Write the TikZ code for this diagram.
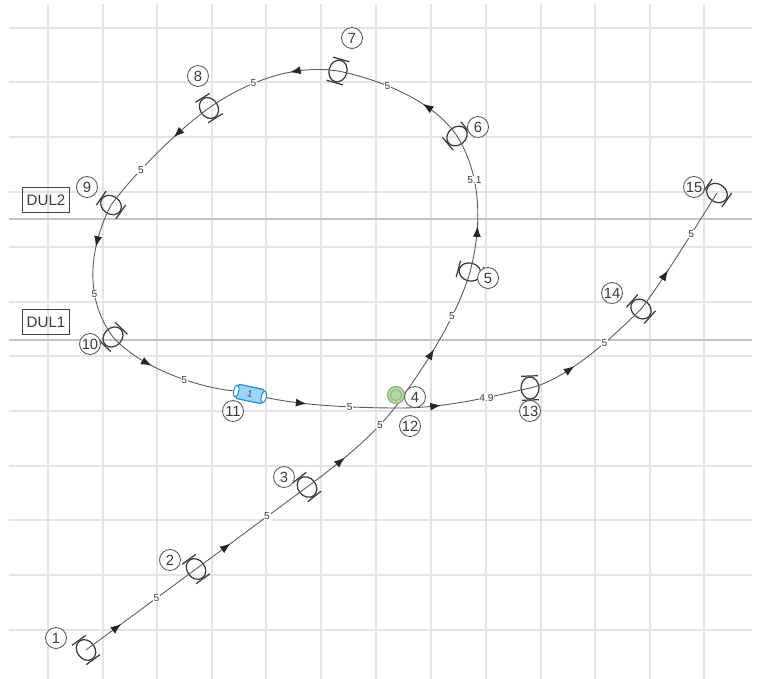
\documentclass[tikz,border=0pt]{standalone}
\usepackage{fontspec}
\setmainfont{Liberation Sans}
\usetikzlibrary{shapes.geometric,decorations.markings,arrows.meta}
\definecolor{gridc}{HTML}{E4E4E4}
\definecolor{gridd}{HTML}{C4C4C4}
\definecolor{ink}{HTML}{3A3A3A}
\definecolor{track}{HTML}{5A5A5A}
\definecolor{cylf}{HTML}{9BD4F8}
\definecolor{cyld}{HTML}{2E8FC8}
\definecolor{grnf}{HTML}{B7D8A2}
\definecolor{grnd}{HTML}{8FB57C}
\tikzset{
  x=0.02cm,y=-0.02cm,
  gridline/.style={gridc,line width=0.6pt},
  gridstrong/.style={gridd,line width=0.6pt},
  trk/.style={track,line width=0.5pt},
  tk/.style={postaction={decorate,decoration={markings,mark=at position #1 with {\arrow[black!85]{Latex[length=6pt,width=4.6pt]}}}}},
  seglab/.style={fill=white,inner sep=0.4pt,font=\fontsize{5.8}{7}\selectfont,text=ink},
  tieell/.style={ellipse,draw=ink,line width=0.7pt,minimum width=0.36cm,minimum height=0.44cm,inner sep=0pt},
  tiebar/.style={ink,line width=0.7pt},
  numlab/.style={circle,draw=black!65,fill=white,line width=0.5pt,minimum size=0.42cm,inner sep=0pt,font=\fontsize{8.4}{10}\selectfont,text=ink},
  dul/.style={draw=black!75,line width=0.7pt,minimum width=0.94cm,minimum height=0.49cm,inner sep=0pt,font=\fontsize{8.6}{10}\selectfont,text=ink},
  cyl/.style={draw=cyld,fill=cylf,line width=0.7pt,rounded corners=1pt,minimum width=0.54cm,minimum height=0.29cm,inner sep=0pt,font=\fontsize{5.2}{6}\selectfont,text=ink},
  cylend/.style={ellipse,draw=cyld,fill=white,line width=0.6pt,minimum width=0.1cm,minimum height=0.24cm,inner sep=0pt},
}
\newcommand{\railtie}[4]{%
  \node[tieell,rotate={-(#4)}] (#1) at (#2,#3) {};
  \draw[tiebar] (#1.center) ++(#4+90:12) ++(#4:8.5) -- ++(#4+180:17);
  \draw[tiebar] (#1.center) ++(#4-90:12) ++(#4:8.5) -- ++(#4+180:17);
}
\begin{document}
\begin{tikzpicture}
\useasboundingbox (0,0) rectangle (757,679);
\fill[white] (0,0) rectangle (757,679);
\foreach \gx in {48,103,157,212,266,321,376,431,486,541,595,650,704}
  \draw[gridline] (\gx,4) -- (\gx,679);
\foreach \gy in {28,82,137,192,247,302,356,411,466,520,575,630}
  \draw[gridline] (9,\gy) -- (752,\gy);
\foreach \gy in {219,340}
  \draw[gridstrong] (9,\gy) -- (752,\gy);

\coordinate (n4) at (405,393);
\coordinate (n12) at (400,408);
\railtie{n1}{86}{650}{-36}
\railtie{n2}{196}{569}{-36}
\railtie{n3}{307}{487}{-38}
\railtie{n5}{470}{272}{-75}
\railtie{n6}{457}{136}{50}
\railtie{n7}{338}{71}{16}
\railtie{n8}{209}{108}{-32}
\railtie{n9}{111}{205}{-55}
\railtie{n10}{113}{337}{44}
\railtie{n13}{530}{388}{-2}
\railtie{n14}{641}{309}{-48}
\railtie{n15}{717}{193}{-55}
\node[cyl,rotate=-12] (n11) at (250,394) {1};
\node[cylend,rotate=-12] (n11a) at (n11.west) {};
\node[cylend,rotate=-12] (n11b) at (n11.east) {};

\draw[trk,tk=.32] (n1.center) -- node[seglab,pos=.64]{5} (n2.center);
\draw[trk,tk=.31] (n2.center) -- node[seglab,pos=.64]{5} (n3.center);
\draw[trk,tk=.35] (n3.center) .. controls (345,459) and (384,427) .. node[seglab,pos=.68]{5} (n4);
\draw[trk,tk=.38] (n4) .. controls (422,370) and (457,317) .. node[seglab,pos=.68]{5} (n5.center);
\draw[trk,tk=.33] (n5.center) .. controls (482,227) and (482,176) .. node[seglab,pos=.66]{5.1} (n6.center);
\draw[trk,tk=.34] (n6.center) .. controls (433,100) and (378,79) .. node[seglab,pos=.62]{5} (n7.center);
\draw[trk,tk=.35] (n7.center) .. controls (293,64) and (246,82) .. node[seglab,pos=.63]{5} (n8.center);
\draw[trk,tk=.33] (n8.center) .. controls (182,127) and (138,169) .. node[seglab,pos=.68]{5} (n9.center);
\draw[trk,tk=.32] (n9.center) .. controls (88,250) and (85,300) .. node[seglab,pos=.65]{5} (n10.center);
\draw[trk,tk=.36] (n10.center) .. controls (140,368) and (200,388) .. node[seglab,pos=.6]{5} (n11a);
\draw[trk,tk=.3] (n11b) .. controls (300,405) and (350,408) .. node[seglab,pos=.66]{5} (n12);
\draw[trk,tk=.31] (n12) .. controls (445,408) and (490,397) .. node[seglab,pos=.65]{4.9} (n13.center);
\draw[trk,tk=.36] (n13.center) .. controls (565,380) and (610,340) .. node[seglab,pos=.65]{5} (n14.center);
\draw[trk,tk=.34] (n14.center) .. controls (660,285) and (695,228) .. node[seglab,pos=.66]{5} (n15.center);

\node[circle,draw=grnd,fill=grnf,line width=0.7pt,minimum size=0.34cm,inner sep=0pt] (sw) at (396,395) {};
\node[circle,draw=grnd,line width=0.5pt,minimum size=0.22cm,inner sep=0pt] (swi) at (396,395) {};

\node[numlab] (l1) at (56,638) {1};
\node[numlab] (l2) at (170,560) {2};
\node[numlab] (l3) at (284,477) {3};
\node[numlab] (l4) at (415,397) {4};
\node[numlab] (l5) at (488,278) {5};
\node[numlab] (l6) at (478,127) {6};
\node[numlab] (l7) at (352,38) {7};
\node[numlab] (l8) at (198,76) {8};
\node[numlab] (l9) at (87,187) {9};
\node[numlab] (l10) at (90,344) {10};
\node[numlab] (l11) at (233,411) {11};
\node[numlab] (l12) at (410,426) {12};
\node[numlab] (l13) at (530,411) {13};
\node[numlab] (l14) at (612,293) {14};
\node[numlab] (l15) at (694,187) {15};
\node[dul] (d2) at (46,200) {DUL2};
\node[dul] (d1) at (46,322) {DUL1};
\end{tikzpicture}
\end{document}
